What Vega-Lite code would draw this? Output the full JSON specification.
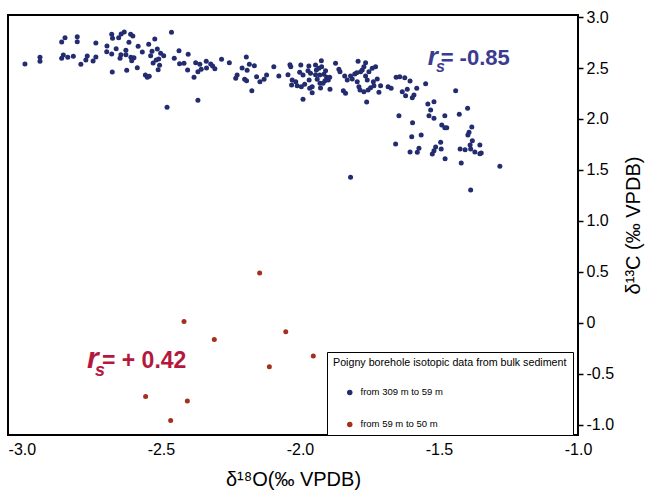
{
"$schema": "https://vega.github.io/schema/vega-lite/v6.json",
"width": 570, "height": 420,
"autosize": "none",
"padding": {"left": 8, "top": 15, "right": 67, "bottom": 60},
"background": "white",
"config": {"font": "Liberation Sans", "view": {"stroke": "black", "strokeWidth": 2}},
"datasets": {
"points": [
{"d18O":-2.989,"d13C":2.539,"series":"from 309 m to 59 m"},
{"d18O":-2.935,"d13C":2.605,"series":"from 309 m to 59 m"},
{"d18O":-2.935,"d13C":2.566,"series":"from 309 m to 59 m"},
{"d18O":-2.857,"d13C":2.755,"series":"from 309 m to 59 m"},
{"d18O":-2.845,"d13C":2.797,"series":"from 309 m to 59 m"},
{"d18O":-2.801,"d13C":2.807,"series":"from 309 m to 59 m"},
{"d18O":-2.801,"d13C":2.758,"series":"from 309 m to 59 m"},
{"d18O":-2.857,"d13C":2.595,"series":"from 309 m to 59 m"},
{"d18O":-2.851,"d13C":2.627,"series":"from 309 m to 59 m"},
{"d18O":-2.835,"d13C":2.605,"series":"from 309 m to 59 m"},
{"d18O":-2.815,"d13C":2.615,"series":"from 309 m to 59 m"},
{"d18O":-2.788,"d13C":2.536,"series":"from 309 m to 59 m"},
{"d18O":-2.770,"d13C":2.578,"series":"from 309 m to 59 m"},
{"d18O":-2.765,"d13C":2.618,"series":"from 309 m to 59 m"},
{"d18O":-2.744,"d13C":2.569,"series":"from 309 m to 59 m"},
{"d18O":-2.734,"d13C":2.608,"series":"from 309 m to 59 m"},
{"d18O":-2.734,"d13C":2.745,"series":"from 309 m to 59 m"},
{"d18O":-2.694,"d13C":2.716,"series":"from 309 m to 59 m"},
{"d18O":-2.695,"d13C":2.660,"series":"from 309 m to 59 m"},
{"d18O":-2.677,"d13C":2.637,"series":"from 309 m to 59 m"},
{"d18O":-2.677,"d13C":2.830,"series":"from 309 m to 59 m"},
{"d18O":-2.674,"d13C":2.791,"series":"from 309 m to 59 m"},
{"d18O":-2.652,"d13C":2.797,"series":"from 309 m to 59 m"},
{"d18O":-2.643,"d13C":2.833,"series":"from 309 m to 59 m"},
{"d18O":-2.632,"d13C":2.853,"series":"from 309 m to 59 m"},
{"d18O":-2.609,"d13C":2.830,"series":"from 309 m to 59 m"},
{"d18O":-2.601,"d13C":2.814,"series":"from 309 m to 59 m"},
{"d18O":-2.615,"d13C":2.752,"series":"from 309 m to 59 m"},
{"d18O":-2.661,"d13C":2.689,"series":"from 309 m to 59 m"},
{"d18O":-2.644,"d13C":2.630,"series":"from 309 m to 59 m"},
{"d18O":-2.647,"d13C":2.595,"series":"from 309 m to 59 m"},
{"d18O":-2.626,"d13C":2.674,"series":"from 309 m to 59 m"},
{"d18O":-2.626,"d13C":2.630,"series":"from 309 m to 59 m"},
{"d18O":-2.608,"d13C":2.605,"series":"from 309 m to 59 m"},
{"d18O":-2.597,"d13C":2.601,"series":"from 309 m to 59 m"},
{"d18O":-2.605,"d13C":2.572,"series":"from 309 m to 59 m"},
{"d18O":-2.582,"d13C":2.713,"series":"from 309 m to 59 m"},
{"d18O":-2.567,"d13C":2.657,"series":"from 309 m to 59 m"},
{"d18O":-2.585,"d13C":2.503,"series":"from 309 m to 59 m"},
{"d18O":-2.623,"d13C":2.477,"series":"from 309 m to 59 m"},
{"d18O":-2.675,"d13C":2.461,"series":"from 309 m to 59 m"},
{"d18O":-2.544,"d13C":2.732,"series":"from 309 m to 59 m"},
{"d18O":-2.522,"d13C":2.784,"series":"from 309 m to 59 m"},
{"d18O":-2.532,"d13C":2.664,"series":"from 309 m to 59 m"},
{"d18O":-2.537,"d13C":2.621,"series":"from 309 m to 59 m"},
{"d18O":-2.513,"d13C":2.686,"series":"from 309 m to 59 m"},
{"d18O":-2.501,"d13C":2.644,"series":"from 309 m to 59 m"},
{"d18O":-2.490,"d13C":2.621,"series":"from 309 m to 59 m"},
{"d18O":-2.508,"d13C":2.588,"series":"from 309 m to 59 m"},
{"d18O":-2.517,"d13C":2.578,"series":"from 309 m to 59 m"},
{"d18O":-2.528,"d13C":2.549,"series":"from 309 m to 59 m"},
{"d18O":-2.505,"d13C":2.526,"series":"from 309 m to 59 m"},
{"d18O":-2.510,"d13C":2.483,"series":"from 309 m to 59 m"},
{"d18O":-2.556,"d13C":2.431,"series":"from 309 m to 59 m"},
{"d18O":-2.542,"d13C":2.419,"series":"from 309 m to 59 m"},
{"d18O":-2.549,"d13C":2.409,"series":"from 309 m to 59 m"},
{"d18O":-2.462,"d13C":2.850,"series":"from 309 m to 59 m"},
{"d18O":-2.435,"d13C":2.670,"series":"from 309 m to 59 m"},
{"d18O":-2.452,"d13C":2.595,"series":"from 309 m to 59 m"},
{"d18O":-2.433,"d13C":2.542,"series":"from 309 m to 59 m"},
{"d18O":-2.417,"d13C":2.546,"series":"from 309 m to 59 m"},
{"d18O":-2.404,"d13C":2.480,"series":"from 309 m to 59 m"},
{"d18O":-2.402,"d13C":2.634,"series":"from 309 m to 59 m"},
{"d18O":-2.478,"d13C":2.115,"series":"from 309 m to 59 m"},
{"d18O":-2.375,"d13C":2.552,"series":"from 309 m to 59 m"},
{"d18O":-2.360,"d13C":2.536,"series":"from 309 m to 59 m"},
{"d18O":-2.355,"d13C":2.487,"series":"from 309 m to 59 m"},
{"d18O":-2.367,"d13C":2.464,"series":"from 309 m to 59 m"},
{"d18O":-2.381,"d13C":2.409,"series":"from 309 m to 59 m"},
{"d18O":-2.337,"d13C":2.566,"series":"from 309 m to 59 m"},
{"d18O":-2.336,"d13C":2.500,"series":"from 309 m to 59 m"},
{"d18O":-2.321,"d13C":2.539,"series":"from 309 m to 59 m"},
{"d18O":-2.314,"d13C":2.520,"series":"from 309 m to 59 m"},
{"d18O":-2.306,"d13C":2.493,"series":"from 309 m to 59 m"},
{"d18O":-2.367,"d13C":2.183,"series":"from 309 m to 59 m"},
{"d18O":-2.282,"d13C":2.585,"series":"from 309 m to 59 m"},
{"d18O":-2.254,"d13C":2.552,"series":"from 309 m to 59 m"},
{"d18O":-2.193,"d13C":2.608,"series":"from 309 m to 59 m"},
{"d18O":-2.208,"d13C":2.500,"series":"from 309 m to 59 m"},
{"d18O":-2.190,"d13C":2.477,"series":"from 309 m to 59 m"},
{"d18O":-2.182,"d13C":2.536,"series":"from 309 m to 59 m"},
{"d18O":-2.164,"d13C":2.523,"series":"from 309 m to 59 m"},
{"d18O":-2.226,"d13C":2.431,"series":"from 309 m to 59 m"},
{"d18O":-2.231,"d13C":2.399,"series":"from 309 m to 59 m"},
{"d18O":-2.199,"d13C":2.389,"series":"from 309 m to 59 m"},
{"d18O":-2.192,"d13C":2.375,"series":"from 309 m to 59 m"},
{"d18O":-2.173,"d13C":2.277,"series":"from 309 m to 59 m"},
{"d18O":-2.156,"d13C":2.415,"series":"from 309 m to 59 m"},
{"d18O":-2.144,"d13C":2.366,"series":"from 309 m to 59 m"},
{"d18O":-2.129,"d13C":2.389,"series":"from 309 m to 59 m"},
{"d18O":-2.120,"d13C":2.431,"series":"from 309 m to 59 m"},
{"d18O":-2.094,"d13C":2.513,"series":"from 309 m to 59 m"},
{"d18O":-2.076,"d13C":2.422,"series":"from 309 m to 59 m"},
{"d18O":-2.036,"d13C":2.532,"series":"from 309 m to 59 m"},
{"d18O":-2.033,"d13C":2.513,"series":"from 309 m to 59 m"},
{"d18O":-2.043,"d13C":2.434,"series":"from 309 m to 59 m"},
{"d18O":-1.997,"d13C":2.529,"series":"from 309 m to 59 m"},
{"d18O":-2.001,"d13C":2.458,"series":"from 309 m to 59 m"},
{"d18O":-2.028,"d13C":2.382,"series":"from 309 m to 59 m"},
{"d18O":-2.015,"d13C":2.366,"series":"from 309 m to 59 m"},
{"d18O":-2.030,"d13C":2.333,"series":"from 309 m to 59 m"},
{"d18O":-2.010,"d13C":2.326,"series":"from 309 m to 59 m"},
{"d18O":-1.995,"d13C":2.317,"series":"from 309 m to 59 m"},
{"d18O":-1.983,"d13C":2.340,"series":"from 309 m to 59 m"},
{"d18O":-1.989,"d13C":2.193,"series":"from 309 m to 59 m"},
{"d18O":-1.968,"d13C":2.520,"series":"from 309 m to 59 m"},
{"d18O":-1.971,"d13C":2.474,"series":"from 309 m to 59 m"},
{"d18O":-1.962,"d13C":2.448,"series":"from 309 m to 59 m"},
{"d18O":-1.967,"d13C":2.382,"series":"from 309 m to 59 m"},
{"d18O":-1.956,"d13C":2.317,"series":"from 309 m to 59 m"},
{"d18O":-1.965,"d13C":2.301,"series":"from 309 m to 59 m"},
{"d18O":-1.956,"d13C":2.258,"series":"from 309 m to 59 m"},
{"d18O":-1.944,"d13C":2.529,"series":"from 309 m to 59 m"},
{"d18O":-1.941,"d13C":2.480,"series":"from 309 m to 59 m"},
{"d18O":-1.944,"d13C":2.434,"series":"from 309 m to 59 m"},
{"d18O":-1.938,"d13C":2.389,"series":"from 309 m to 59 m"},
{"d18O":-1.928,"d13C":2.350,"series":"from 309 m to 59 m"},
{"d18O":-1.923,"d13C":2.572,"series":"from 309 m to 59 m"},
{"d18O":-1.922,"d13C":2.513,"series":"from 309 m to 59 m"},
{"d18O":-1.908,"d13C":2.474,"series":"from 309 m to 59 m"},
{"d18O":-1.914,"d13C":2.438,"series":"from 309 m to 59 m"},
{"d18O":-1.904,"d13C":2.409,"series":"from 309 m to 59 m"},
{"d18O":-1.898,"d13C":2.382,"series":"from 309 m to 59 m"},
{"d18O":-1.910,"d13C":2.375,"series":"from 309 m to 59 m"},
{"d18O":-1.926,"d13C":2.304,"series":"from 309 m to 59 m"},
{"d18O":-1.892,"d13C":2.291,"series":"from 309 m to 59 m"},
{"d18O":-1.872,"d13C":2.546,"series":"from 309 m to 59 m"},
{"d18O":-1.860,"d13C":2.487,"series":"from 309 m to 59 m"},
{"d18O":-1.856,"d13C":2.464,"series":"from 309 m to 59 m"},
{"d18O":-1.844,"d13C":2.277,"series":"from 309 m to 59 m"},
{"d18O":-1.836,"d13C":2.252,"series":"from 309 m to 59 m"},
{"d18O":-1.839,"d13C":2.422,"series":"from 309 m to 59 m"},
{"d18O":-1.830,"d13C":2.382,"series":"from 309 m to 59 m"},
{"d18O":-1.818,"d13C":2.422,"series":"from 309 m to 59 m"},
{"d18O":-1.812,"d13C":2.392,"series":"from 309 m to 59 m"},
{"d18O":-1.803,"d13C":2.441,"series":"from 309 m to 59 m"},
{"d18O":-1.796,"d13C":2.454,"series":"from 309 m to 59 m"},
{"d18O":-1.794,"d13C":2.366,"series":"from 309 m to 59 m"},
{"d18O":-1.788,"d13C":2.317,"series":"from 309 m to 59 m"},
{"d18O":-1.791,"d13C":2.566,"series":"from 309 m to 59 m"},
{"d18O":-1.776,"d13C":2.480,"series":"from 309 m to 59 m"},
{"d18O":-1.770,"d13C":2.513,"series":"from 309 m to 59 m"},
{"d18O":-1.764,"d13C":2.552,"series":"from 309 m to 59 m"},
{"d18O":-1.764,"d13C":2.422,"series":"from 309 m to 59 m"},
{"d18O":-1.758,"d13C":2.382,"series":"from 309 m to 59 m"},
{"d18O":-1.784,"d13C":2.284,"series":"from 309 m to 59 m"},
{"d18O":-1.770,"d13C":2.268,"series":"from 309 m to 59 m"},
{"d18O":-1.755,"d13C":2.284,"series":"from 309 m to 59 m"},
{"d18O":-1.760,"d13C":2.167,"series":"from 309 m to 59 m"},
{"d18O":-1.818,"d13C":1.428,"series":"from 309 m to 59 m"},
{"d18O":-1.989,"d13C":2.431,"series":"from 309 m to 59 m"},
{"d18O":-1.932,"d13C":2.497,"series":"from 309 m to 59 m"},
{"d18O":-1.929,"d13C":2.431,"series":"from 309 m to 59 m"},
{"d18O":-1.917,"d13C":2.350,"series":"from 309 m to 59 m"},
{"d18O":-1.893,"d13C":2.409,"series":"from 309 m to 59 m"},
{"d18O":-1.782,"d13C":2.464,"series":"from 309 m to 59 m"},
{"d18O":-1.752,"d13C":2.464,"series":"from 309 m to 59 m"},
{"d18O":-1.740,"d13C":2.497,"series":"from 309 m to 59 m"},
{"d18O":-1.728,"d13C":2.513,"series":"from 309 m to 59 m"},
{"d18O":-1.722,"d13C":2.392,"series":"from 309 m to 59 m"},
{"d18O":-1.736,"d13C":2.366,"series":"from 309 m to 59 m"},
{"d18O":-1.734,"d13C":2.326,"series":"from 309 m to 59 m"},
{"d18O":-1.710,"d13C":2.326,"series":"from 309 m to 59 m"},
{"d18O":-1.716,"d13C":2.262,"series":"from 309 m to 59 m"},
{"d18O":-1.746,"d13C":2.307,"series":"from 309 m to 59 m"},
{"d18O":-1.654,"d13C":2.409,"series":"from 309 m to 59 m"},
{"d18O":-1.641,"d13C":2.415,"series":"from 309 m to 59 m"},
{"d18O":-1.623,"d13C":2.405,"series":"from 309 m to 59 m"},
{"d18O":-1.604,"d13C":2.373,"series":"from 309 m to 59 m"},
{"d18O":-1.683,"d13C":2.317,"series":"from 309 m to 59 m"},
{"d18O":-1.672,"d13C":2.301,"series":"from 309 m to 59 m"},
{"d18O":-1.632,"d13C":2.268,"series":"from 309 m to 59 m"},
{"d18O":-1.614,"d13C":2.291,"series":"from 309 m to 59 m"},
{"d18O":-1.620,"d13C":2.228,"series":"from 309 m to 59 m"},
{"d18O":-1.596,"d13C":2.209,"series":"from 309 m to 59 m"},
{"d18O":-1.590,"d13C":2.235,"series":"from 309 m to 59 m"},
{"d18O":-1.580,"d13C":2.301,"series":"from 309 m to 59 m"},
{"d18O":-1.548,"d13C":2.346,"series":"from 309 m to 59 m"},
{"d18O":-1.440,"d13C":2.277,"series":"from 309 m to 59 m"},
{"d18O":-1.540,"d13C":2.147,"series":"from 309 m to 59 m"},
{"d18O":-1.518,"d13C":2.170,"series":"from 309 m to 59 m"},
{"d18O":-1.530,"d13C":2.088,"series":"from 309 m to 59 m"},
{"d18O":-1.536,"d13C":2.032,"series":"from 309 m to 59 m"},
{"d18O":-1.518,"d13C":2.007,"series":"from 309 m to 59 m"},
{"d18O":-1.479,"d13C":2.032,"series":"from 309 m to 59 m"},
{"d18O":-1.644,"d13C":2.032,"series":"from 309 m to 59 m"},
{"d18O":-1.595,"d13C":1.964,"series":"from 309 m to 59 m"},
{"d18O":-1.490,"d13C":1.941,"series":"from 309 m to 59 m"},
{"d18O":-1.479,"d13C":1.915,"series":"from 309 m to 59 m"},
{"d18O":-1.472,"d13C":1.915,"series":"from 309 m to 59 m"},
{"d18O":-1.427,"d13C":2.046,"series":"from 309 m to 59 m"},
{"d18O":-1.397,"d13C":2.105,"series":"from 309 m to 59 m"},
{"d18O":-1.598,"d13C":1.826,"series":"from 309 m to 59 m"},
{"d18O":-1.564,"d13C":1.843,"series":"from 309 m to 59 m"},
{"d18O":-1.656,"d13C":1.755,"series":"from 309 m to 59 m"},
{"d18O":-1.604,"d13C":1.676,"series":"from 309 m to 59 m"},
{"d18O":-1.578,"d13C":1.674,"series":"from 309 m to 59 m"},
{"d18O":-1.572,"d13C":1.713,"series":"from 309 m to 59 m"},
{"d18O":-1.494,"d13C":1.772,"series":"from 309 m to 59 m"},
{"d18O":-1.512,"d13C":1.725,"series":"from 309 m to 59 m"},
{"d18O":-1.518,"d13C":1.689,"series":"from 309 m to 59 m"},
{"d18O":-1.524,"d13C":1.657,"series":"from 309 m to 59 m"},
{"d18O":-1.492,"d13C":1.706,"series":"from 309 m to 59 m"},
{"d18O":-1.478,"d13C":1.611,"series":"from 309 m to 59 m"},
{"d18O":-1.382,"d13C":1.922,"series":"from 309 m to 59 m"},
{"d18O":-1.392,"d13C":1.870,"series":"from 309 m to 59 m"},
{"d18O":-1.396,"d13C":1.843,"series":"from 309 m to 59 m"},
{"d18O":-1.380,"d13C":1.787,"series":"from 309 m to 59 m"},
{"d18O":-1.388,"d13C":1.745,"series":"from 309 m to 59 m"},
{"d18O":-1.353,"d13C":1.745,"series":"from 309 m to 59 m"},
{"d18O":-1.424,"d13C":1.706,"series":"from 309 m to 59 m"},
{"d18O":-1.406,"d13C":1.699,"series":"from 309 m to 59 m"},
{"d18O":-1.386,"d13C":1.706,"series":"from 309 m to 59 m"},
{"d18O":-1.371,"d13C":1.676,"series":"from 309 m to 59 m"},
{"d18O":-1.353,"d13C":1.660,"series":"from 309 m to 59 m"},
{"d18O":-1.348,"d13C":1.667,"series":"from 309 m to 59 m"},
{"d18O":-1.420,"d13C":1.569,"series":"from 309 m to 59 m"},
{"d18O":-1.281,"d13C":1.536,"series":"from 309 m to 59 m"},
{"d18O":-1.386,"d13C":1.304,"series":"from 309 m to 59 m"},
{"d18O":-2.145,"d13C":0.490,"series":"from 59 m  to 50 m"},
{"d18O":-2.417,"d13C":0.013,"series":"from 59 m  to 50 m"},
{"d18O":-2.308,"d13C":-0.164,"series":"from 59 m  to 50 m"},
{"d18O":-2.051,"d13C":-0.088,"series":"from 59 m  to 50 m"},
{"d18O":-1.952,"d13C":-0.324,"series":"from 59 m  to 50 m"},
{"d18O":-2.110,"d13C":-0.431,"series":"from 59 m  to 50 m"},
{"d18O":-2.555,"d13C":-0.723,"series":"from 59 m  to 50 m"},
{"d18O":-2.405,"d13C":-0.767,"series":"from 59 m  to 50 m"},
{"d18O":-2.465,"d13C":-0.958,"series":"from 59 m  to 50 m"}
]
},
"layer": [
{
"data": {"name": "points"},
"mark": {"type": "circle", "size": 25, "opacity": 1},
"encoding": {
"x": {"field": "d18O", "type": "quantitative",
 "scale": {"domain": [-3.05, -1.0], "nice": false, "zero": false},
 "axis": {"orient": "bottom", "values": [-3, -2.5, -2, -1.5, -1], "ticks": false, "domain": false, "grid": false,
  "labelFontSize": 16, "labelPadding": 6, "labelColor": "black", "labelFlush": false, "labelOverlap": false,
  "labelExpr": "replace(format(datum.value, '.1f'), '\u2212', '-')",
  "title": "δ¹⁸O(‰ VPDB)", "titleFontSize": 20, "titleFontWeight": "normal", "titleColor": "black", "titlePadding": 12}},
"y": {"field": "d13C", "type": "quantitative",
 "scale": {"domain": [-1.1, 3.02], "nice": false, "zero": false},
 "axis": {"orient": "right", "values": [-1, -0.5, 0, 0.5, 1, 1.5, 2, 2.5, 3], "ticks": true, "tickSize": 5, "tickColor": "black", "tickWidth": 1.5,
  "domain": false, "grid": false, "labelFontSize": 16, "labelPadding": 3, "labelColor": "black", "labelOverlap": false, "labelFlush": false,
  "labelExpr": "datum.value == 0 ? '0' : replace(format(datum.value, '.1f'), '\u2212', '-')",
  "title": "δ¹³C (‰ VPDB)", "titleFontSize": 20, "titleFontWeight": "normal", "titleColor": "black", "titleAngle": 270, "titleBaseline": "top", "titlePadding": 10}},
"color": {"field": "series", "type": "nominal",
 "scale": {"domain": ["from 309 m to 59 m", "from 59 m  to 50 m"], "range": ["#232c6e", "#a3301e"]},
 "legend": {"orient": "none", "legendX": 319, "legendY": 337,
  "title": "Poigny borehole isotopic data from bulk sediment", "titleFontSize": 10.7, "titleFontWeight": "normal", "titleColor": "black", "titleLimit": 400,
  "labelFontSize": 9.5, "labelColor": "black", "labelLimit": 300, "symbolType": "circle", "symbolSize": 30, "symbolOffset": 12,
  "rowPadding": 21, "padding": 6, "strokeColor": "black", "fillColor": "white", "titlePadding": 19, "labelOffset": 6}}
}
},
{
"data": {"values": [{"d18O": -1.540, "d13C": 2.534, "label": "r"}]},
"mark": {"type": "text", "align": "left", "baseline": "alphabetic", "fontWeight": "bold", "fontStyle": "italic", "fontSize": 26, "color": "#3b3b8f"},
"encoding": {"x": {"field": "d18O", "type": "quantitative"}, "y": {"field": "d13C", "type": "quantitative"}, "text": {"field": "label"}}
},
{
"data": {"values": [{"d18O": -1.511, "d13C": 2.464, "label": "s"}]},
"mark": {"type": "text", "align": "left", "baseline": "alphabetic", "fontWeight": "bold", "fontStyle": "italic", "fontSize": 16, "color": "#3b3b8f"},
"encoding": {"x": {"field": "d18O", "type": "quantitative"}, "y": {"field": "d13C", "type": "quantitative"}, "text": {"field": "label"}}
},
{
"data": {"values": [{"d18O": -1.494, "d13C": 2.534, "label": "= -0.85"}]},
"mark": {"type": "text", "align": "left", "baseline": "alphabetic", "fontWeight": "bold", "fontSize": 22, "color": "#3b3b8f"},
"encoding": {"x": {"field": "d18O", "type": "quantitative"}, "y": {"field": "d13C", "type": "quantitative"}, "text": {"field": "label"}}
},
{
"data": {"values": [{"d18O": -2.766, "d13C": -0.444, "label": "r"}]},
"mark": {"type": "text", "align": "left", "baseline": "alphabetic", "fontWeight": "bold", "fontStyle": "italic", "fontSize": 30, "color": "#b5183c"},
"encoding": {"x": {"field": "d18O", "type": "quantitative"}, "y": {"field": "d13C", "type": "quantitative"}, "text": {"field": "label"}}
},
{
"data": {"values": [{"d18O": -2.737, "d13C": -0.520, "label": "s"}]},
"mark": {"type": "text", "align": "left", "baseline": "alphabetic", "fontWeight": "bold", "fontStyle": "italic", "fontSize": 18, "color": "#b5183c"},
"encoding": {"x": {"field": "d18O", "type": "quantitative"}, "y": {"field": "d13C", "type": "quantitative"}, "text": {"field": "label"}}
},
{
"data": {"values": [{"d18O": -2.712, "d13C": -0.444, "label": "= + 0.42"}]},
"mark": {"type": "text", "align": "left", "baseline": "alphabetic", "fontWeight": "bold", "fontSize": 23, "color": "#b5183c"},
"encoding": {"x": {"field": "d18O", "type": "quantitative"}, "y": {"field": "d13C", "type": "quantitative"}, "text": {"field": "label"}}
}
]
}
